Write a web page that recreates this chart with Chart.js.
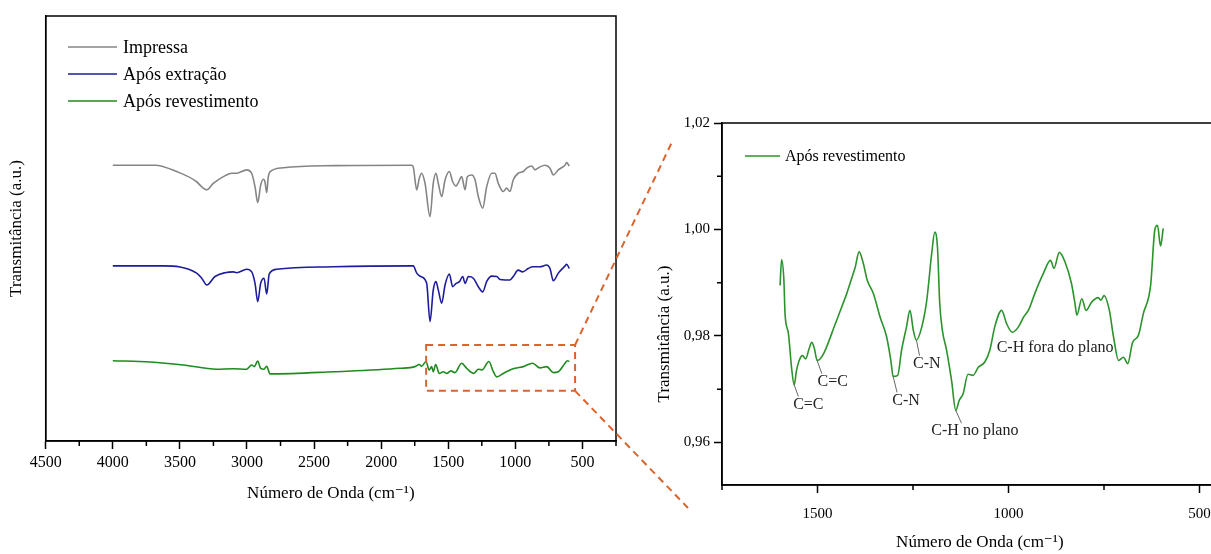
<!DOCTYPE html>
<html>
<head>
<meta charset="utf-8">
<script src="https://cdn.jsdelivr.net/npm/chart.js@4.4.0/dist/chart.umd.min.js"></script>
<style>
html, body { margin: 0; padding: 0; background: #fff; overflow: hidden; }
#wrap { position: relative; width: 1211px; height: 554px; overflow: hidden; }
#left { position: absolute; left: 0; top: 0; }
#right { position: absolute; left: 640px; top: 0; }
#overlay { position: absolute; left: 0; top: 0; pointer-events: none; }
</style>
</head>
<body>
<div id="wrap">
  <canvas id="left" width="640" height="554"></canvas>
  <canvas id="right" width="620" height="554"></canvas>
  <canvas id="overlay" width="1211" height="554"></canvas>
</div>
<script>
// FTIR spectra - full range (arbitrary offset units)
const impressaWn = [4000, 3685, 3524, 3375, 3337, 3300, 3251, 3176, 3114, 3077, 3002, 2965, 2940, 2920, 2898, 2878, 2866, 2853, 2841, 2816, 2729, 2357, 1773, 1761, 1735, 1716, 1698, 1673, 1636, 1612, 1592, 1574, 1549, 1524, 1492, 1467, 1442, 1425, 1400, 1375, 1358, 1325, 1300, 1276, 1243, 1214, 1176, 1152, 1127, 1090, 1065, 1040, 1016, 979, 941, 916, 878, 854, 817, 779, 742, 717, 680, 630, 618, 598];
const impressaT = [64.9, 64.9, 63.4, 61.0, 59.8, 59.1, 60.6, 62.2, 63.0, 63.0, 63.8, 63.0, 59.8, 56.1, 60.2, 61.6, 61.0, 58.4, 62.2, 63.6, 64.3, 64.8, 64.9, 64.5, 59.1, 61.8, 63.0, 60.6, 52.8, 60.6, 63.0, 60.6, 57.5, 61.4, 63.4, 61.0, 60.0, 60.8, 62.2, 59.1, 62.2, 62.6, 61.4, 57.5, 54.8, 59.8, 63.0, 63.0, 60.6, 58.7, 59.5, 58.7, 61.4, 63.0, 63.4, 64.2, 64.7, 63.8, 64.5, 64.9, 64.2, 62.6, 63.8, 64.9, 65.5, 64.7];

const extracaoWn = [4000, 3624, 3375, 3337, 3300, 3238, 3164, 3102, 3077, 3002, 2965, 2940, 2920, 2898, 2873, 2853, 2834, 2779, 2357, 1761, 1735, 1706, 1661, 1636, 1612, 1592, 1574, 1549, 1524, 1492, 1467, 1442, 1417, 1392, 1375, 1350, 1313, 1276, 1243, 1214, 1176, 1139, 1114, 1077, 1040, 1016, 979, 946, 904, 867, 817, 767, 742, 717, 680, 630, 618, 598];
const extracaoT = [41.2, 41.2, 39.5, 38.3, 36.7, 38.7, 39.6, 39.8, 39.6, 40.4, 39.8, 37.1, 32.8, 37.1, 38.3, 34.6, 39.3, 40.4, 41.0, 41.2, 39.5, 38.7, 37.1, 28.1, 35.5, 37.5, 35.5, 32.4, 36.7, 39.3, 36.3, 37.1, 37.5, 38.7, 37.1, 38.7, 38.3, 36.3, 35.1, 37.5, 38.8, 38.7, 38.0, 37.9, 37.9, 38.7, 40.2, 39.8, 40.6, 41.0, 41.0, 41.4, 40.6, 37.7, 39.5, 41.2, 41.6, 40.6];

const revestWn = [4000, 3723, 3475, 3226, 3102, 3002, 2965, 2946, 2920, 2898, 2873, 2853, 2829, 2357, 1860, 1748, 1716, 1698, 1666, 1642, 1624, 1612, 1594, 1567, 1537, 1510, 1482, 1450, 1400, 1363, 1309, 1276, 1250, 1197, 1164, 1139, 1090, 1040, 1003, 941, 871, 817, 767, 717, 680, 630, 612, 598];
const revestT = [18.9, 18.6, 17.9, 16.9, 17.0, 16.9, 17.9, 17.5, 18.8, 17.1, 16.9, 17.6, 15.8, 16.3, 17.1, 17.5, 18.0, 17.6, 18.7, 16.7, 17.5, 16.3, 18.0, 15.9, 16.3, 15.9, 16.5, 16.1, 18.3, 17.1, 15.9, 16.9, 16.7, 18.7, 16.3, 15.1, 15.9, 16.7, 17.1, 17.5, 18.3, 17.2, 17.5, 16.1, 16.3, 18.3, 18.9, 18.7];

// detail of "Após revestimento", 1600-600 cm-1
const detailWn = [1598, 1594, 1588, 1585, 1576, 1568, 1561, 1555, 1548, 1539, 1531, 1522, 1515, 1508, 1501, 1450, 1402, 1391, 1380, 1370, 1354, 1336, 1319, 1308, 1302, 1290, 1280, 1267, 1258, 1249, 1241, 1227, 1214, 1201, 1193, 1186, 1180, 1173, 1162, 1149, 1138, 1129, 1119, 1106, 1093, 1079, 1062, 1049, 1036, 1018, 1005, 990, 974, 961, 946, 931, 909, 890, 881, 867, 852, 835, 826, 821, 808, 797, 782, 765, 758, 750, 736, 725, 712, 699, 688, 675, 660, 647, 628, 617, 610, 602, 595];
const detailT = [0.9895, 0.9943, 0.9905, 0.9842, 0.9804, 0.9741, 0.9708, 0.9735, 0.9754, 0.9763, 0.9757, 0.9776, 0.9788, 0.9776, 0.9754, 0.9829, 0.9927, 0.9958, 0.9936, 0.9905, 0.9880, 0.9835, 0.9798, 0.9754, 0.9724, 0.9726, 0.9773, 0.9817, 0.9848, 0.9810, 0.9792, 0.9817, 0.9867, 0.9955, 0.9995, 0.9967, 0.9861, 0.9810, 0.9773, 0.9716, 0.9660, 0.9679, 0.9691, 0.9728, 0.9726, 0.9741, 0.9751, 0.9773, 0.9817, 0.9848, 0.9823, 0.9807, 0.9817, 0.9835, 0.9851, 0.9880, 0.9917, 0.9942, 0.9927, 0.9957, 0.9939, 0.9898, 0.9861, 0.9839, 0.9870, 0.9848, 0.9864, 0.9872, 0.9867, 0.9876, 0.9848, 0.9798, 0.9754, 0.9760, 0.9748, 0.9788, 0.9801, 0.9842, 0.9895, 0.9999, 1.0008, 0.9969, 1.0002];

// band assignments (anchor on the curve, label centre)
const bandNames = ['C=C', 'C=C', 'C-N', 'C-N', 'C-H no plano', 'C-H fora do plano'];
const bandWn = [1561, 1501, 1302, 1241, 1138, null];
const bandT = [0.9708, 0.9754, 0.9724, 0.9792, 0.9660, null];
const labelWn = [1524, 1460, 1268, 1214, 1088, 878];
const labelT = [0.9671, 0.9714, 0.9679, 0.9748, 0.9621, 0.9778];

// axis ticks
const leftXTicks = [4500, 4000, 3500, 3000, 2500, 2000, 1500, 1000, 500];
const leftXMinor = [4250, 3750, 3250, 2750, 2250, 1750, 1250, 750, 250];
const rightXTicks = [1500, 1000, 500];
const rightXMinor = [1750, 1250, 750];
const rightYTicks = [1.02, 1.00, 0.98, 0.96];
const rightYMinor = [1.01, 0.99, 0.97];

// zoomed region marked on the full spectrum
const zoomWn = [1665, 555];
const zoomLevel = [11.8, 22.6];

const serif = "'Liberation Serif', 'Times New Roman', 'DejaVu Serif', serif";
Chart.defaults.font.family = serif;
Chart.defaults.color = '#000';
Chart.defaults.animation = false;

const colors = {
    gray: '#858585',
    blue: '#1d1d9c',
    green: '#1f8a1f',
    greenLight: '#2b932b',
    orange: '#d9652e'
};

function toPoints(xs, ys) {
    return xs.map((x, i) => ({ x: x, y: ys[i] }));
}

// box around the plot area
const frameBox = {
    id: 'frameBox',
    afterDraw(chart) {
        const { ctx, chartArea: a } = chart;
        ctx.save();
        ctx.strokeStyle = '#000';
        ctx.lineWidth = 1.5;
        ctx.strokeRect(a.left, a.top, a.right - a.left, a.bottom - a.top);
        ctx.restore();
    }
};

// short minor ticks, outside
const minorTicks = {
    id: 'minorTicks',
    afterDraw(chart, args, opts) {
        const { ctx, chartArea: a, scales } = chart;
        ctx.save();
        ctx.strokeStyle = '#000';
        ctx.lineWidth = 1.5;
        ctx.beginPath();
        (opts.x || []).forEach(v => {
            const px = scales.x.getPixelForValue(v);
            ctx.moveTo(px, a.bottom);
            ctx.lineTo(px, a.bottom + opts.len);
        });
        (opts.y || []).forEach(v => {
            const py = scales.y.getPixelForValue(v);
            ctx.moveTo(a.left, py);
            ctx.lineTo(a.left - opts.len, py);
        });
        ctx.stroke();
        ctx.restore();
    }
};

// legend drawn inside the plot
const seriesKey = {
    id: 'seriesKey',
    afterDraw(chart, args, o) {
        const { ctx, chartArea: a } = chart;
        ctx.save();
        ctx.font = o.size + 'px ' + serif;
        ctx.textBaseline = 'middle';
        ctx.fillStyle = '#000';
        chart.data.datasets.forEach((ds, i) => {
            const y = a.top + o.top + i * o.row;
            ctx.strokeStyle = ds.borderColor;
            ctx.lineWidth = 1.5;
            ctx.beginPath();
            ctx.moveTo(a.left + o.left, y);
            ctx.lineTo(a.left + o.left + o.len, y);
            ctx.stroke();
            ctx.fillText(ds.label, a.left + o.left + o.len + o.gap, y + 1);
        });
        ctx.restore();
    }
};

// y title placed a little below the axis middle, as in the source figure
const sideTitle = {
    id: 'sideTitle',
    afterDraw(chart, args, o) {
        const { ctx, chartArea: a } = chart;
        ctx.save();
        ctx.font = o.size + 'px ' + serif;
        ctx.fillStyle = '#000';
        ctx.textAlign = 'center';
        ctx.textBaseline = 'middle';
        ctx.translate(o.x, (a.top + a.bottom) / 2 + o.shift);
        ctx.rotate(-Math.PI / 2);
        ctx.fillText(o.text, 0, 0);
        ctx.restore();
    }
};

// dashed rectangle around the zoomed region
const zoomBox = {
    id: 'zoomBox',
    afterDatasetsDraw(chart) {
        const { ctx, scales } = chart;
        const x1 = scales.x.getPixelForValue(zoomWn[0]);
        const x2 = scales.x.getPixelForValue(zoomWn[1]);
        const y1 = scales.y.getPixelForValue(zoomLevel[1]);
        const y2 = scales.y.getPixelForValue(zoomLevel[0]);
        ctx.save();
        ctx.strokeStyle = colors.orange;
        ctx.lineWidth = 2;
        ctx.setLineDash([7, 5]);
        ctx.strokeRect(x1, y1, x2 - x1, y2 - y1);
        ctx.restore();
    }
};

// band labels with leader lines
const bandLabels = {
    id: 'bandLabels',
    afterDatasetsDraw(chart) {
        const { ctx, scales } = chart;
        ctx.save();
        ctx.font = '16px ' + serif;
        ctx.textAlign = 'center';
        ctx.textBaseline = 'middle';
        bandNames.forEach((name, i) => {
            const lx = scales.x.getPixelForValue(labelWn[i]);
            const ly = scales.y.getPixelForValue(labelT[i]);
            if (bandWn[i] !== null) {
                const ax = scales.x.getPixelForValue(bandWn[i]);
                const ay = scales.y.getPixelForValue(bandT[i]);
                ctx.strokeStyle = '#666';
                ctx.lineWidth = 1;
                ctx.beginPath();
                ctx.moveTo(ax, ay);
                ctx.lineTo(ax + (lx - ax) * 0.3, ly - 8);
                ctx.stroke();
            }
            ctx.fillStyle = '#222';
            ctx.fillText(name, lx, ly);
        });
        ctx.restore();
    }
};

const lineStyle = {
    borderWidth: 1.6,
    pointRadius: 0,
    fill: false,
    cubicInterpolationMode: 'monotone'
};

const leftChart = new Chart(document.getElementById('left'), {
    type: 'line',
    data: {
        datasets: [
            { label: 'Impressa', data: toPoints(impressaWn, impressaT), borderColor: colors.gray, ...lineStyle },
            { label: 'Após extração', data: toPoints(extracaoWn, extracaoT), borderColor: colors.blue, ...lineStyle },
            { label: 'Após revestimento', data: toPoints(revestWn, revestT), borderColor: colors.green, ...lineStyle }
        ]
    },
    options: {
        responsive: false,
        layout: { padding: { left: 6.8, top: 16, right: 24, bottom: 50.5 } },
        plugins: {
            legend: { display: false },
            tooltip: { enabled: false },
            minorTicks: { x: leftXMinor, len: 5 },
            seriesKey: { size: 18, left: 22.3, len: 49, gap: 6, top: 31, row: 27 }
        },
        scales: {
            x: {
                type: 'linear',
                reverse: true,
                min: 250,
                max: 4500,
                afterBuildTicks: s => { s.ticks = leftXTicks.map(v => ({ value: v })); },
                afterFit: s => { s.height = 62.5; },
                grid: { drawOnChartArea: false, tickLength: 8, tickWidth: 1.5, tickColor: '#000' },
                border: { color: '#000', width: 1.5 },
                ticks: {
                    font: { size: 16 },
                    padding: 4,
                    maxRotation: 0,
                    autoSkip: false,
                    callback: v => String(v)
                },
                title: { display: true, text: 'Número de Onda (cm⁻¹)', font: { size: 17 }, padding: 0 }
            },
            y: {
                min: 0,
                max: 100,
                afterFit: s => { s.width = 38.9; },
                grid: { display: false },
                border: { color: '#000', width: 1.5 },
                ticks: { display: false },
                title: { display: true, text: 'Transmitância (a.u.)', font: { size: 17 }, padding: 0 }
            }
        }
    },
    plugins: [frameBox, minorTicks, seriesKey, zoomBox]
});

const rightChart = new Chart(document.getElementById('right'), {
    type: 'line',
    data: {
        datasets: [
            { label: 'Após revestimento', data: toPoints(detailWn, detailT), borderColor: colors.greenLight, ...lineStyle }
        ]
    },
    options: {
        responsive: false,
        layout: { padding: { left: 14.8, top: 123, right: 22.3, bottom: 0.8 } },
        plugins: {
            legend: { display: false },
            tooltip: { enabled: false },
            minorTicks: { x: rightXMinor, y: rightYMinor, len: 5 },
            seriesKey: { size: 16, left: 23, len: 35, gap: 5, top: 33, row: 27 },
            sideTitle: { text: 'Transmitância (a.u.)', size: 17, x: 25, shift: 30 }
        },
        scales: {
            x: {
                type: 'linear',
                reverse: true,
                min: 400,
                max: 1750,
                afterBuildTicks: s => { s.ticks = rightXTicks.map(v => ({ value: v })); },
                afterFit: s => { s.height = 68.2; },
                grid: { drawOnChartArea: false, tickLength: 8, tickWidth: 1.5, tickColor: '#000' },
                border: { color: '#000', width: 1.5 },
                ticks: {
                    font: { size: 15 },
                    padding: 12,
                    maxRotation: 0,
                    autoSkip: false,
                    callback: v => String(v)
                },
                title: { display: true, text: 'Número de Onda (cm⁻¹)', font: { size: 17 }, padding: 0 }
            },
            y: {
                min: 0.952,
                max: 1.02,
                afterBuildTicks: s => { s.ticks = rightYTicks.map(v => ({ value: v })); },
                afterFit: s => { s.width = 67.2; },
                grid: { drawOnChartArea: false, tickLength: 8, tickWidth: 1.5, tickColor: '#000' },
                border: { color: '#000', width: 1.5 },
                ticks: {
                    font: { size: 15 },
                    padding: 4,
                    callback: v => v.toFixed(2).replace('.', ',')
                },
                title: { display: false }
            }
        }
    },
    plugins: [frameBox, minorTicks, seriesKey, bandLabels, sideTitle]
});

// dashed connectors from the marked region to the detail plot
function drawConnectors() {
    const ctx = document.getElementById('overlay').getContext('2d');
    const off = document.getElementById('right').offsetLeft;
    const L = leftChart.scales;
    const ra = rightChart.chartArea;
    const rx = L.x.getPixelForValue(zoomWn[1]);
    const ty = L.y.getPixelForValue(zoomLevel[1]);
    const by = L.y.getPixelForValue(zoomLevel[0]);
    ctx.strokeStyle = colors.orange;
    ctx.lineWidth = 2;
    ctx.setLineDash([7, 5]);
    ctx.beginPath();
    ctx.moveTo(rx, ty);
    ctx.lineTo(off + ra.left - 50, ra.top + 19);
    ctx.moveTo(rx, by);
    ctx.lineTo(off + ra.left - 34, ra.bottom + 23);
    ctx.stroke();
}
drawConnectors();
</script>
</body>
</html>
